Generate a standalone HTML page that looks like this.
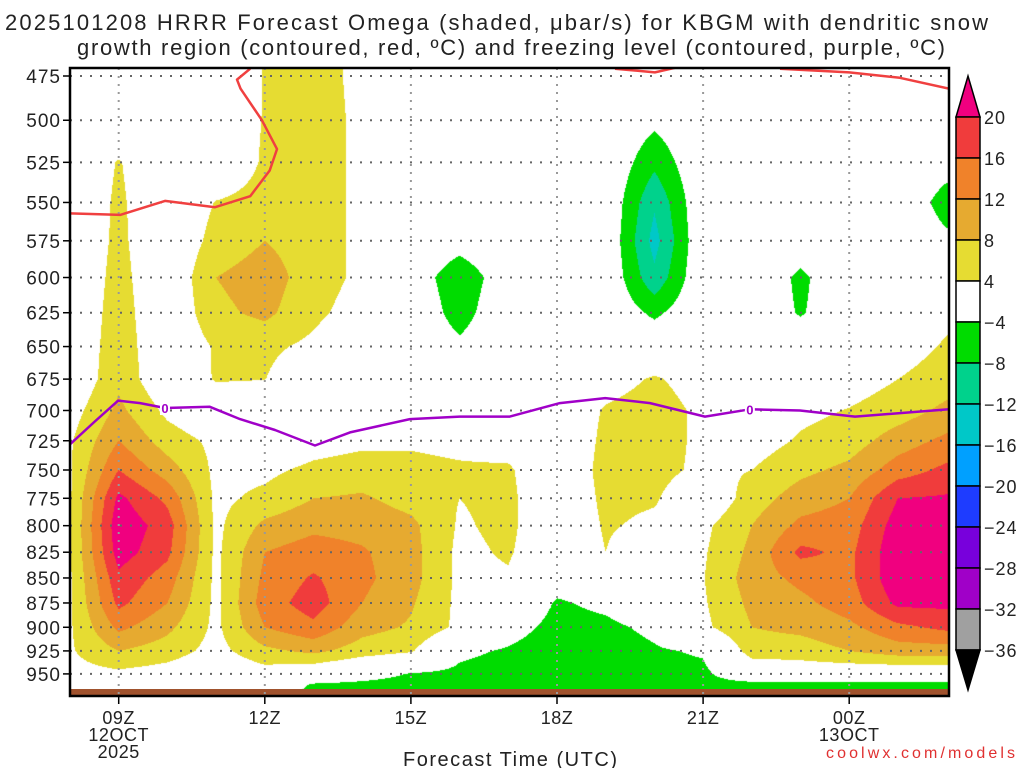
<!DOCTYPE html>
<html><head><meta charset="utf-8">
<style>
html,body{margin:0;padding:0;background:#fff;}
#wrap{position:relative;width:1024px;height:768px;overflow:hidden;font-family:"Liberation Sans",sans-serif;}
canvas{position:absolute;left:0;top:0;}
svg{position:absolute;left:0;top:0;}
</style></head>
<body>
<div id="wrap">
<canvas id="cv" width="1024" height="768"></canvas>
<svg id="sv" width="1024" height="768" xmlns="http://www.w3.org/2000/svg"></svg>
</div>
<script>
// ---- data ----
const hours = [8,9,10,11,12,13,14,15,16,17,18,19,20,21,22,23,24,25,26];
const pressures = [475,500,525,550,575,600,625,650,675,700,725,750,775,800,825,850,875,900,925,950,962,975];
const omega = [
[0,0,0,0,4.2,5.5,3,0,0,0,0,0,0,0,0,0,0,0,0],
[0,0,0,0,4.3,6,3,0,0,0,0,0,-3,0,0,0,0,0,0],
[0,4.3,0,0,4.6,6,3,0,0,0,0,0,-7,0,0,0,0,0,-2],
[0,4.8,0,4.2,5.5,6,3,0,0,0,0,0,-11.5,0,0,0,0,0,-6],
[0,5,0,5.5,8,6,3,0,-2,0,0,0,-13.5,0,0,-1,0,0,-3],
[0,5.5,0,8,10,6,3,-1,-7,-1,0,0,-11,0,0,-5,0,0,0],
[0,6,0,7,9,5,2,0,-6,0,0,0,-5,0,0,-4.5,0,0,3],
[0,6.5,0,4.5,5,3,0,0,-3,0,0,0,0,0,0,0,0,2,4.5],
[0,7,0,4.4,4.1,0,0,0,0,0,0,2,4.5,2,0,0,2,4,6],
[2,9,3,0,0,0,0,0,0,0,0,4.5,6,3,0,3,4.2,6,9],
[3.5,12,6,3,0,2,3,3.5,3,2,0,5,6,3,2,4.5,6,10,13],
[3.5,16,10,3,3,5,6,5,4.5,4.6,0,5.5,5.5,3,4,7,9,14,17],
[3.5,21,15,3,5,8,8.5,6.5,4,5,0,5,4.5,0,6,10,12,20,20.5],
[3.5,23,18,3,9,11,10.5,9,3.5,5,0,4.5,3,3,8,13,14,22,23],
[3.5,22,17,3,12,14,12.5,9.5,3,4.5,0,4,0,3.5,9,17,15,23,24],
[3.5,19,14,3,13,16.5,13,9.5,3,3.5,-2,0,0,3.8,10,13,15,23,23],
[3.5,17,12,3,14,18,12,8.5,3,1,-4.5,-3,0,3.5,9,11,14,21,21],
[3.5,13,9,3,12,15,9.5,7.5,3,-2,-5.5,-5,-3,3,8,9,11,15,17],
[3.5,8,6,2.5,7,9,6,4.5,-3,-4.5,-6.5,-6,-4.5,-3.5,6,6,8,10,10],
[2.5,3,2,0,2,0,-2,-4.3,-5,-6,-7,-6,-5.5,-5,0,1,0.5,0,0],
[0,0,0,0,0,-4.5,-5,-5.5,-6,-6.5,-6,-5.5,-5.5,-5.5,-5.5,-5.5,-5.5,-5.5,-5.5],
[0,0,0,0,-4,-5,-5,-5.5,-6,-6.5,-6,-5.5,-5.5,-5.5,-5.5,-5.5,-5.5,-5.5,-5.5]
];
const levels = [-36,-32,-28,-24,-20,-16,-12,-8,-4,4,8,12,16,20];
const levelColors = ["#000000","#a0a0a0","#a000c8","#7800dc","#1e3cff","#00a0ff","#00c8c8","#00d28c","#00dc00","#ffffff","#e6dc32","#e6aa30","#f0822a","#f03c3c","#f0007f"];
const dgzLine1 = [[8,557],[9.03,558],[9.95,549],[10.98,553],[11.7,546],[12.1,530],[12.25,517],[11.94,500],[11.5,482],[11.43,477],[11.7,471]];
const dgzLine2 = [[19.19,471],[20.01,473],[20.5,470]];
const dgzLine3 = [[22.58,471],[24.0,473],[25.04,476],[26.05,482]];
const frzLine = [[8,728],[8.51,709],[8.99,692],[9.44,694],[9.95,698],[10.87,697],[11.49,707],[12.21,716],[13.03,729],[13.75,718],[14.98,707],[16,705],[17.03,705],[18.06,694],[18.99,690],[19.91,694],[21.04,705],[21.96,699],[22.99,700],[24.12,705],[26.05,699]];
const yTicks = [475,500,525,550,575,600,625,650,675,700,725,750,775,800,825,850,875,900,925,950];
const xTickHours = [9,12,15,18,21,24];
const xTickLabels = [["09Z","12OCT","2025"],["12Z"],["15Z"],["18Z"],["21Z"],["00Z","13OCT"]];
const cbLabels = ["20","16","12","8","4","\u22124","\u22128","\u221212","\u221216","\u221220","\u221224","\u221228","\u221232","\u221236"];

// ---- axes ----
const L=70,R=949,T=68,B=696;
const xOf = h => 70 + (h-8)*48.7;
const hOf = x => 8 + (x-70)/48.7;
const yOf = p => 76 + 862.6*Math.log(p/475);
const pOf = y => 475*Math.exp((y-76)/862.6);

// ---- shading ----
function idx(arr,v){
  if(v<=arr[0])return [0,0];
  for(let i=0;i<arr.length-1;i++){if(v<=arr[i+1])return [i,(v-arr[i])/(arr[i+1]-arr[i])];}
  return [arr.length-2,1];
}
function val(h,p){
  const [c0,fc]=idx(hours,h);const [r0,fr]=idx(pressures,p);
  const a=omega[r0][c0],b=omega[r0][c0+1],d=omega[r0+1][c0],e=omega[r0+1][c0+1];
  return (a*(1-fc)+b*fc)*(1-fr)+(d*(1-fc)+e*fc)*fr;
}
function colorOf(v){let i=0;while(i<levels.length&&v>=levels[i])i++;return levelColors[i];}
function hex(c){return [parseInt(c.substr(1,2),16),parseInt(c.substr(3,2),16),parseInt(c.substr(5,2),16)];}
const cv=document.getElementById('cv');const ctx=cv.getContext('2d');
const img=ctx.createImageData(R-L,B-T);
for(let y=T;y<B;y++){const p=pOf(y+0.5);for(let x=L;x<R;x++){const rgb=hex(colorOf(val(hOf(x+0.5),p)));const k=((y-T)*(R-L)+(x-L))*4;img.data[k]=rgb[0];img.data[k+1]=rgb[1];img.data[k+2]=rgb[2];img.data[k+3]=255;}}
ctx.putImageData(img,L,T);

// ---- svg overlay ----
const NS="http://www.w3.org/2000/svg";const sv=document.getElementById('sv');
function mk(tag,attrs,parent){const e=document.createElementNS(NS,tag);for(const k in attrs)e.setAttribute(k,attrs[k]);(parent||sv).appendChild(e);return e;}
function txt(s,attrs,parent){const e=mk('text',attrs,parent);e.textContent=s;return e;}

const g0=mk('rect',{x:L,y:689,width:R-L,height:B-689,fill:'#a0522d'});



yTicks.forEach(p=>{const y=yOf(p);
  const gl=mk('line',{x1:L,x2:R,y1:y,y2:y,stroke:'#666','stroke-width':2,'stroke-dasharray':'2 8'});
  
  
  const tk=mk('line',{x1:L-7,x2:L,y1:y,y2:y,stroke:'#000','stroke-width':1.5});
  
  
  const t=txt(String(p),{x:L-9,y:y+7,'text-anchor':'end','font-size':19,'letter-spacing':'1',fill:'#222'});
  
  
});
xTickHours.forEach((h,i)=>{const x=xOf(h);
  const gl=mk('line',{x1:x,x2:x,y1:T,y2:B,stroke:'#999','stroke-width':2,'stroke-dasharray':'2 6'});
  
  
  const tk=mk('line',{x1:x,x2:x,y1:B,y2:B+8,stroke:'#000','stroke-width':1.5});
  
  
  xTickLabels[i].forEach((s,j)=>{const t=txt(s,{x:x,y:724+j*17,'text-anchor':'middle','font-size':18,'letter-spacing':'0.5',fill:'#222'});
    
    });
});

const clip=mk('clipPath',{id:'pc'});mk('rect',{x:L,y:T,width:R-L,height:B-T},clip);
function poly(pts,color,name){const d=pts.map((q,i)=>(i?'L':'M')+xOf(q[0]).toFixed(1)+' '+yOf(q[1]).toFixed(1)).join(' ');
  const e=mk('path',{d:d,fill:'none',stroke:color,'stroke-width':2.5,'clip-path':'url(#pc)','stroke-linejoin':'round'});
  
  }
poly(dgzLine1,'#f04040','dgz-contour');
poly(dgzLine2,'#f04040','dgz-contour');
poly(dgzLine3,'#f04040','dgz-contour');
poly(frzLine,'#a000c8','freezing-level-contour');
[[9.95,698],[21.96,699]].forEach(q=>{
  const bg=mk('rect',{x:xOf(q[0])-5,y:yOf(q[1])-7,width:10,height:14,fill:'#fff'});
  
  
  const t=txt('0',{x:xOf(q[0]),y:yOf(q[1])+5,'text-anchor':'middle','font-size':13,'font-weight':'bold',fill:'#a000c8'});
  
  });

const fr=mk('rect',{x:L,y:T,width:R-L,height:B-T,fill:'none',stroke:'#000','stroke-width':2.5});



const cbX=956,cbW=24,cbTop=117,cbStep=41;
const tri=mk('polygon',{points:`${cbX},${cbTop} ${cbX+cbW},${cbTop} ${cbX+cbW/2},76`,fill:levelColors[14],stroke:'#000','stroke-width':1.5});


for(let i=0;i<13;i++){const r=mk('rect',{x:cbX,y:cbTop+i*cbStep,width:cbW,height:cbStep,fill:levelColors[13-i],stroke:'#000','stroke-width':1.5});
  
  }
const bt=cbTop+13*cbStep;
const tri2=mk('polygon',{points:`${cbX},${bt} ${cbX+cbW},${bt} ${cbX+cbW/2},${bt+40}`,fill:'#000',stroke:'#000','stroke-width':1.5});


cbLabels.forEach((s,i)=>{const t=txt(s,{x:984,y:cbTop+i*cbStep+7,'font-size':18,'letter-spacing':'1',fill:'#222'});
  
  });

const t1=txt('2025101208 HRRR Forecast Omega (shaded, \u03bcbar/s) for KBGM with dendritic snow',{x:5,y:30,'font-size':22,textLength:983,lengthAdjust:'spacing',fill:'#222'});


const t2=txt('growth region (contoured, red, \u00baC) and freezing level (contoured, purple, \u00baC)',{x:77,y:55,'font-size':22,textLength:868,lengthAdjust:'spacing',fill:'#222'});


const xt=txt('Forecast Time (UTC)',{x:403,y:766,'font-size':20,textLength:214,lengthAdjust:'spacing',fill:'#222'});


const cr=txt('coolwx.com/models',{x:826,y:758,'font-size':16,textLength:189,lengthAdjust:'spacing',fill:'#e03030'});


</script>
</body></html>
